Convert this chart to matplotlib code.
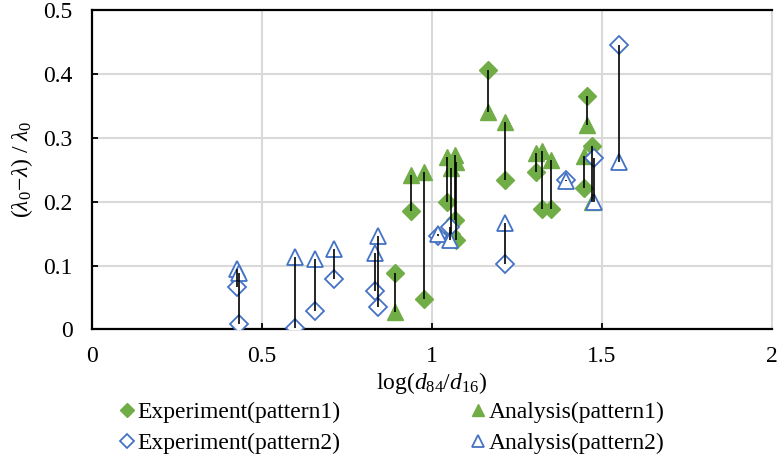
import matplotlib
matplotlib.use('Agg')
import matplotlib.pyplot as plt
from matplotlib.lines import Line2D

plt.rcParams['font.family'] = 'Liberation Serif'
plt.rcParams['mathtext.fontset'] = 'custom'
plt.rcParams['mathtext.rm'] = 'Liberation Serif'
plt.rcParams['mathtext.it'] = 'Liberation Serif:italic'

# pattern 1 (green) : log(d84/d16), experiment, analysis
x1 = [0.891, 0.938, 0.977, 1.045, 1.057, 1.068, 1.072, 1.166, 1.214,
      1.305, 1.325, 1.350, 1.447, 1.456, 1.470]
exp1 = [0.089, 0.185, 0.048, 0.200, 0.150, 0.172, 0.140, 0.406, 0.234,
        0.247, 0.189, 0.189, 0.221, 0.365, 0.287]
ana1 = [0.027, 0.242, 0.247, 0.270, 0.252, 0.273, 0.262, 0.341, 0.324,
        0.276, 0.279, 0.266, 0.271, 0.320, 0.200]

# pattern 2 (blue)
x2 = [0.426, 0.434, 0.598, 0.657, 0.713, 0.832, 0.840, 1.018, 1.052,
      1.214, 1.395, 1.476, 1.549]
exp2 = [0.066, 0.009, 0.003, 0.029, 0.079, 0.060, 0.035, 0.147, 0.160,
        0.103, 0.234, 0.268, 0.446]
ana2 = [0.094, 0.089, 0.113, 0.111, 0.126, 0.120, 0.147, 0.150, 0.140,
        0.166, 0.232, 0.200, 0.262]

green = '#70AD47'
blue = '#4472C4'

fig = plt.figure(figsize=(7.79, 4.66), dpi=100)
ax = fig.add_axes([0.118, 0.293, 0.873, 0.6855])

# markers
ax.plot(x1, exp1, ls='none', marker='D', ms=9.5, color=green, zorder=3)
ax.plot(x1, ana1, ls='none', marker='^', ms=11, color=green, zorder=3)
ax.plot(x2, exp2, ls='none', marker='D', ms=9.5, mfc='white', mec=blue, mew=1.3, zorder=3)
ax.plot(x2, ana2, ls='none', marker='^', ms=11, mfc='white', mec=blue, mew=1.3, zorder=3)

# connecting lines
ax.vlines(x1, exp1, ana1, color='black', lw=1.2, zorder=4)
ax.vlines(x2, exp2, ana2, color='black', lw=1.2, zorder=4)

ax.set_xlim(0, 2)
ax.set_ylim(0, 0.5)
ax.set_xticks([0, 0.5, 1, 1.5, 2])
ax.set_xticklabels(['0', '0.5', '1', '1.5', '2'])
ax.set_yticks([0, 0.1, 0.2, 0.3, 0.4, 0.5])
ax.set_yticklabels(['0', '0.1', '0.2', '0.3', '0.4', '0.5'])
ax.grid(True, color='#D9D9D9', lw=1.5, zorder=0)
ax.set_axisbelow(True)
ax.tick_params(direction='in', length=4, width=1.3, labelsize=17)
ax.tick_params(axis='x', pad=12)
ax.tick_params(axis='y', pad=14)
for s in ['left', 'bottom', 'top']:
    ax.spines[s].set_linewidth(1.6)
ax.spines['right'].set_color('#D9D9D9')
ax.spines['right'].set_linewidth(1.5)

ax.set_xlabel(r'log($d_{84}$/$d_{16}$)', fontsize=17, labelpad=2)
ax.set_ylabel(r'$(\lambda_0\!-\!\lambda)\ /\ \lambda_0$', fontsize=17, labelpad=6)

handles = [
    Line2D([], [], ls='none', marker='D', ms=7, color=green),
    Line2D([], [], ls='none', marker='D', ms=7, mfc='white', mec=blue, mew=1.3),
    Line2D([], [], ls='none', marker='^', ms=8.5, color=green),
    Line2D([], [], ls='none', marker='^', ms=8.5, mfc='white', mec=blue, mew=1.3),
]
labels = ['Experiment(pattern1)', 'Experiment(pattern2)',
          'Analysis(pattern1)', 'Analysis(pattern2)']
fig.legend(handles, labels, ncol=2, loc='upper left', bbox_to_anchor=(0.139, 0.163),
           frameon=False, fontsize=17, handlelength=0.6, handletextpad=0.15,
           columnspacing=5.5, labelspacing=0.4, borderpad=0)

fig.savefig('out.png', dpi=100)
